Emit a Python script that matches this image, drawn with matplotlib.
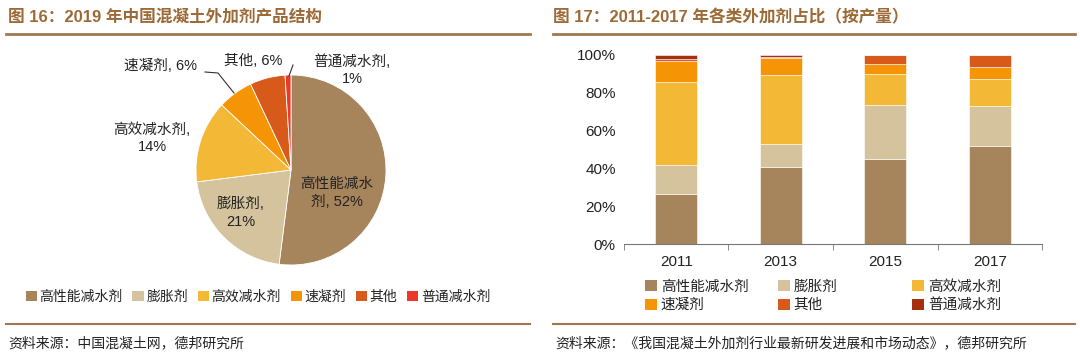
import matplotlib
matplotlib.use('Agg')
import matplotlib.pyplot as plt
import numpy as np
from matplotlib.patches import Patch

plt.rcParams['font.family'] = ['Liberation Sans', 'Noto Sans CJK SC', 'DejaVu Sans']

# pie data (2019)
pie_labels = ['高性能减水剂', '膨胀剂', '高效减水剂', '速凝剂', '其他', '普通减水剂']
pie_values = [52, 21, 14, 6, 6, 1]

# stacked bar data (2011-2017)
years = ['2011', '2013', '2015', '2017']
high_perf = [26.6, 40.7, 45.1, 51.6]
expansive = [15.1, 12.3, 28.5, 21.6]
high_eff = [43.9, 36.4, 16.5, 14.3]
accel = [11.4, 9.2, 5.1, 6.3]
other = [1.0, 0.5, 4.8, 6.0]
ordinary = [2.0, 0.9, 0.0, 0.2]

colors = ['#A6845C', '#D4C39C', '#F3B835', '#F59505', '#D85A1A']
pie_colors = colors + ['#E8392A']
bar_colors = colors + ['#A5300F']

title_color = '#9C6A36'
line_color = '#A07850'
text_color = '#222222'

W, H = 1080, 359
fig = plt.figure(figsize=(W / 100, H / 100), dpi=100)


def fx(px):
    return px / W


def fy(py):
    return 1 - py / H


# ---- titles, rules, sources
fig.text(fx(8), fy(17), '图 16：2019 年中国混凝土外加剂产品结构', fontsize=12, fontweight='bold',
         color=title_color, va='center', ha='left')
fig.text(fx(553), fy(17), '图 17：2011-2017 年各类外加剂占比（按产量）', fontsize=12, fontweight='bold',
         color=title_color, va='center', ha='left')
for x0, x1 in [(6, 530), (553, 1075)]:
    fig.add_artist(plt.Line2D([fx(x0), fx(x1)], [fy(34), fy(34)], color=line_color, lw=2))
    fig.add_artist(plt.Line2D([fx(x0), fx(x1)], [fy(324), fy(324)], color=line_color, lw=1.5))
fig.text(fx(8), fy(343), '资料来源：中国混凝土网，德邦研究所', fontsize=10, color=text_color, va='center')
fig.text(fx(555), fy(343), '资料来源：《我国混凝土外加剂行业最新研发进展和市场动态》，德邦研究所',
         fontsize=10, color=text_color, va='center')

# ---- pie
cx, cy, r = 291, 170, 95
ax1 = fig.add_axes([fx(cx - r), fy(cy + r), 2 * r / W, 2 * r / H])
wedges, _ = ax1.pie(pie_values, colors=pie_colors, startangle=90, counterclock=False,
                    wedgeprops=dict(edgecolor='white', linewidth=0.6))
ax1.set_xlim(-1, 1)
ax1.set_ylim(-1, 1)
ax1.set_aspect('auto')


def d(px, py):
    return (px - cx) / r, (cy - py) / r


lbl = dict(fontsize=10.5, color=text_color, ha='center', va='center', clip_on=False,
           linespacing=1.3)
ax1.text(*d(337, 193), '高性能减水\n剂, 52%', **lbl)
ax1.text(*d(241, 213), '膨胀剂,\n21%', **lbl)
ax1.text(*d(152, 138), '高效减水剂,\n14%', **lbl)
ax1.text(*d(160, 66), '速凝剂, 6%', **lbl)
ax1.text(*d(253, 61), '其他, 6%', **lbl)
ax1.text(*d(352, 70), '普通减水剂,\n1%', **lbl)
p = [d(205, 72), d(218, 73), d(234, 93)]
ax1.plot([q[0] for q in p], [q[1] for q in p], color='#333333', lw=0.8, clip_on=False)
p = [d(293, 65), d(289, 76)]
ax1.plot([q[0] for q in p], [q[1] for q in p], color='#333333', lw=0.8, clip_on=False)

handles = [Patch(facecolor=c, edgecolor='none') for c in pie_colors]
fig.legend(handles, pie_labels, loc='center', bbox_to_anchor=(fx(258), fy(297)), ncol=6,
           frameon=False, fontsize=10, handlelength=0.8, handleheight=0.8, handletextpad=0.2,
           columnspacing=0.7, labelcolor=text_color)

# ---- stacked bars
ax2 = fig.add_axes([fx(624), fy(244), (1042 - 624) / W, (244 - 55) / H])
x = np.arange(len(years))
series = [high_perf, expansive, high_eff, accel, other, ordinary]
bottom = np.zeros(len(years))
for vals, c in zip(series, bar_colors):
    ax2.bar(x, vals, width=0.4, bottom=bottom, color=c, edgecolor='white', linewidth=0.4)
    bottom += np.array(vals)
ax2.set_xlim(-0.5, 3.5)
ax2.set_ylim(0, 100)
ax2.set_yticks(np.arange(0, 101, 20))
ax2.set_yticklabels([f'{v}%' for v in range(0, 101, 20)], fontsize=11, color=text_color)
ax2.set_xticks(x)
ax2.set_xticklabels(years, fontsize=11, color=text_color)
ax2.set_xticks(np.arange(-0.5, 3.6, 1), minor=True)
ax2.tick_params(axis='x', which='major', length=0, pad=8)
ax2.tick_params(axis='x', which='minor', length=4, color='#777777', direction='out')
ax2.tick_params(axis='y', length=0, pad=6)
for s in ['top', 'right', 'left']:
    ax2.spines[s].set_visible(False)
ax2.spines['bottom'].set_color('#777777')
ax2.spines['bottom'].set_linewidth(0.8)

col_x = [645, 778, 912]
for i, xx in enumerate(col_x):
    idx = [i, i + 3]
    fig.legend([Patch(facecolor=bar_colors[j], edgecolor='none') for j in idx],
               [pie_labels[j] for j in idx], loc='upper left',
               bbox_to_anchor=(fx(xx - 6), fy(274)), frameon=False, fontsize=10.5,
               handlelength=0.8, handleheight=0.8, handletextpad=0.3, labelspacing=0.3,
               borderaxespad=0, labelcolor=text_color)

fig.savefig('out.png', dpi=100)
